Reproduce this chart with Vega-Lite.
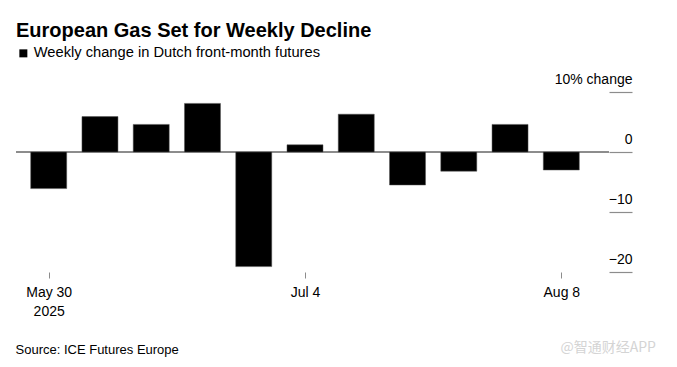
{
  "$schema": "https://vega.github.io/schema/vega-lite/v6.json",
  "autosize": "none",
  "width": 593,
  "height": 180,
  "padding": {"left": 16, "top": 92, "right": 68, "bottom": 95},
  "background": "white",
  "config": {
    "view": {"stroke": null},
    "font": "Liberation Sans, Arial, sans-serif"
  },
  "title": {
    "text": "European Gas Set for Weekly Decline",
    "anchor": "start",
    "frame": "group",
    "fontSize": 20,
    "fontWeight": "bold",
    "color": "#000000",
    "font": "Liberation Sans, Arial, sans-serif",
    "baseline": "alphabetic",
    "offset": 0,
    "dy": 11
  },
  "data": {
    "values": [
      {"date": "2025-05-30", "change": -6.1},
      {"date": "2025-06-06", "change": 5.9},
      {"date": "2025-06-13", "change": 4.6},
      {"date": "2025-06-20", "change": 8.1},
      {"date": "2025-06-27", "change": -19.1},
      {"date": "2025-07-04", "change": 1.2},
      {"date": "2025-07-11", "change": 6.3},
      {"date": "2025-07-18", "change": -5.5},
      {"date": "2025-07-25", "change": -3.2},
      {"date": "2025-08-01", "change": 4.6},
      {"date": "2025-08-08", "change": -3.0}
    ]
  },
  "layer": [
    {
      "mark": {"type": "rule", "color": "#8c8c8c", "strokeWidth": 1},
      "encoding": {"y": {"datum": 0, "type": "quantitative"}}
    },
    {
      "mark": {"type": "bar", "width": 36, "stroke": "#555555", "strokeWidth": 0.5},
      "encoding": {
        "x": {
          "field": "date",
          "type": "temporal",
          "scale": {
            "type": "utc",
            "padding": 0,
            "domain": [
              {"year": 2025, "month": 5, "date": 25, "hours": 12, "minutes": 50, "utc": true},
              {"year": 2025, "month": 8, "date": 14, "hours": 12, "minutes": 20, "utc": true}
            ]
          },
          "axis": {
            "title": "Source: ICE Futures Europe",
            "titleFontSize": 13,
            "titleFontWeight": "normal",
            "titleColor": "#000000",
            "titleAnchor": "start",
            "titleAlign": "left",
            "titleBaseline": "alphabetic",
            "titleX": -1,
            "titleY": 81,
            "domain": false,
            "grid": false,
            "values": [
              {"year": 2025, "month": 5, "date": 30, "utc": true},
              {"year": 2025, "month": 7, "date": 4, "utc": true},
              {"year": 2025, "month": 8, "date": 8, "utc": true}
            ],
            "labelExpr": "datum.index == 0 ? [utcFormat(datum.value, '%b %-d'), '2025'] : utcFormat(datum.value, '%b %-d')",
            "tickSize": 6,
            "tickColor": "#8c8c8c",
            "tickWidth": 1,
            "labelFontSize": 14,
            "labelColor": "#000000",
            "labelPadding": 7,
            "labelLineHeight": 19,
            "labelOverlap": false,
            "labelFlush": false,
            "labelBound": false
          }
        },
        "y": {
          "field": "change",
          "type": "quantitative",
          "scale": {"domain": [-20, 10], "nice": false, "zero": false},
          "axis": {
            "orient": "right",
            "title": "@智通财经APP",
            "titleFont": "Noto Sans CJK SC",
            "titleFontSize": 14,
            "titleFontWeight": "normal",
            "titleColor": "#d4d4d4",
            "titleAngle": 0,
            "titleAlign": "left",
            "titleBaseline": "alphabetic",
            "titleX": -49,
            "titleY": 259,
            "domain": false,
            "grid": false,
            "values": [10, 0, -10, -20],
            "labelExpr": "datum.value == 10 ? '10% change' : datum.label",
            "tickSize": 23,
            "tickColor": "#8c8c8c",
            "tickWidth": 1.2,
            "labelAlign": "right",
            "labelBaseline": "alphabetic",
            "labelOffset": -9,
            "labelPadding": 0,
            "labelFontSize": 14,
            "labelColor": "#000000",
            "labelOverlap": false,
            "labelFlush": false,
            "labelBound": false
          }
        },
        "color": {
          "datum": "Weekly change in Dutch front-month futures",
          "scale": {"range": ["#000000"]},
          "legend": {
            "orient": "none",
            "legendX": 0,
            "legendY": -46,
            "title": null,
            "padding": 0,
            "symbolType": "square",
            "symbolSize": 64,
            "symbolStrokeWidth": 0,
            "labelFontSize": 14.7,
            "labelColor": "#000000",
            "labelOffset": 3,
            "labelLimit": 0
          }
        }
      }
    }
  ]
}
